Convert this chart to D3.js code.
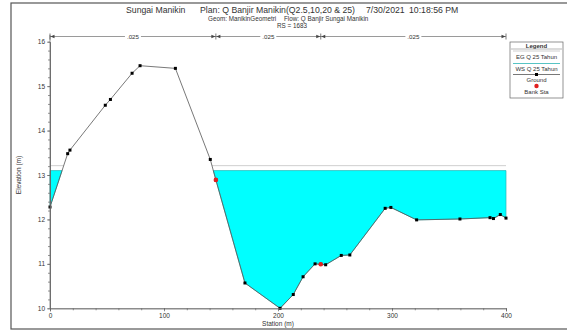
<!DOCTYPE html>
<html>
<head>
<meta charset="utf-8">
<script src="https://cdn.jsdelivr.net/npm/d3@7"></script>
<style>
  body { margin: 0; background: #fff; }
  text { font-family: "Liberation Sans", Arial, sans-serif; fill: #333; }
</style>
</head>
<body>
<div id="chart-container"></div>
<script>
// ground profile (station m, elevation m)
var station   = [0, 15.5, 17.5, 48.5, 53, 72, 79, 110, 140.6, 145.5, 171, 201.8, 213.4, 222, 232.5, 237.5, 241.8, 255.5, 263, 294, 299, 321.6, 359.6, 386, 389, 395, 400];
var elevation = [12.28, 13.48, 13.56, 14.57, 14.70, 15.29, 15.46, 15.40, 13.35, 12.89, 10.57, 10.0, 10.31, 10.71, 11.00, 10.99, 10.98, 11.19, 11.20, 12.25, 12.27, 11.99, 12.01, 12.04, 12.02, 12.11, 12.03];
var bankStations = [145.5, 237.5];
var bankElev = [12.89, 10.99];
var wsElev = 13.10;   // WS Q 25 Tahun
var egElev = 13.21;   // EG Q 25 Tahun
var nBreaks = [0, 145.5, 237.5, 400];
var nValues = [".025", ".025", ".025"];
var xTicks = [0, 100, 200, 300, 400];
var yTicks = [10, 11, 12, 13, 14, 15, 16];

var width = 567, height = 331;

var x = d3.scaleLinear().domain([0, 400]).range([50, 506]);
var y = d3.scaleLinear().domain([10, 16]).range([308.3, 41.7]);

var svg = d3.select("#chart-container")
    .append("svg")
    .attr("width", width)
    .attr("height", height);

// outer frame
svg.append("rect")
    .attr("x", 11).attr("y", 3)
    .attr("width", 570).attr("height", 326)
    .attr("fill", "none")
    .attr("stroke", "#555")
    .attr("stroke-width", 1.2);

// titles
var t = svg.append("text").attr("y", 12.5).attr("font-size", 8.7);
t.append("tspan").attr("x", 126).text("Sungai Manikin");
t.append("tspan").attr("x", 200).text("Plan: Q Banjir Manikin(Q2.5,10,20 & 25)");
t.append("tspan").attr("x", 366).text("7/30/2021");
t.append("tspan").attr("x", 409).text("10:18:56 PM");

var st = svg.append("text").attr("y", 21).attr("font-size", 6.3);
st.append("tspan").attr("x", 208).text("Geom: ManikinGeometri");
st.append("tspan").attr("x", 284).text("Flow: Q Banjir Sungai Manikin");
svg.append("text").attr("x", 277).attr("y", 28).attr("font-size", 6.3)
    .text("RS = 1683");

// wet pockets below a given level
function pockets(level) {
  var out = [], cur = null;
  for (var i = 0; i < station.length; i++) {
    var s = station[i], e = elevation[i];
    if (i > 0) {
      var s0 = station[i - 1], e0 = elevation[i - 1];
      if ((e0 < level) !== (e < level)) {
        var sx = s0 + (level - e0) / (e - e0) * (s - s0);
        if (cur) { cur.push([sx, level]); out.push(cur); cur = null; }
        else cur = [[sx, level]];
      }
    }
    if (e < level) {
      if (!cur) cur = [[s, level]];
      cur.push([s, e]);
    }
  }
  if (cur) { cur.push([station[station.length - 1], level]); out.push(cur); }
  return out;
}

var lineGen = d3.line().x(function(d) { return x(d[0]); }).y(function(d) { return y(d[1]); });

// EG line
pockets(egElev).forEach(function(p) {
  svg.append("line")
      .attr("x1", x(p[0][0])).attr("x2", x(p[p.length - 1][0]))
      .attr("y1", y(egElev)).attr("y2", y(egElev))
      .attr("stroke", "#cfcfcf").attr("stroke-width", 1);
});

// water
svg.selectAll("path.water")
    .data(pockets(wsElev))
    .enter().append("path")
    .attr("class", "water")
    .attr("d", function(d) { return lineGen(d) + "Z"; })
    .attr("fill", "#00ffff")
    .attr("stroke", "#2bb5b5")
    .attr("stroke-width", 0.7);

// ground
var ground = station.map(function(s, i) { return [s, elevation[i]]; });
svg.append("path")
    .attr("d", lineGen(ground))
    .attr("fill", "none")
    .attr("stroke", "#555")
    .attr("stroke-width", 0.8);

svg.selectAll("rect.pt")
    .data(ground)
    .enter().append("rect")
    .attr("class", "pt")
    .attr("x", function(d) { return x(d[0]) - 1.5; })
    .attr("y", function(d) { return y(d[1]) - 1.5; })
    .attr("width", 3).attr("height", 3)
    .attr("fill", "#000");

svg.selectAll("circle.bank")
    .data(bankStations)
    .enter().append("circle")
    .attr("class", "bank")
    .attr("cx", function(d) { return x(d); })
    .attr("cy", function(d, i) { return y(bankElev[i]); })
    .attr("r", 2.3)
    .attr("fill", "#e02020");

// axes
function styleAxis(g) {
  g.selectAll("path.domain, line").attr("stroke", "#666").attr("stroke-width", 0.7);
  g.selectAll("text").attr("font-size", 6.5).attr("fill", "#444");
}

svg.append("g")
    .attr("transform", "translate(0,308.3)")
    .call(d3.axisBottom(x).tickValues(d3.range(0, 401, 20)).tickSize(2).tickFormat(""))
    .call(styleAxis);
svg.append("g")
    .attr("transform", "translate(0,308.3)")
    .call(d3.axisBottom(x).tickValues(xTicks).tickSize(3).tickPadding(2).tickFormat(d3.format("d")))
    .call(styleAxis);

var yTop = y(16.15);
svg.append("g")
    .attr("transform", "translate(50,0)")
    .call(d3.axisLeft(y).tickValues(d3.range(10, 16.01, 0.2)).tickSize(2).tickFormat("").tickSizeOuter(0))
    .call(styleAxis);
svg.append("g")
    .attr("transform", "translate(50,0)")
    .call(d3.axisLeft(y).tickValues(yTicks).tickSize(3).tickPadding(2).tickFormat(d3.format("d")).tickSizeOuter(0))
    .call(styleAxis);
svg.append("line")
    .attr("x1", 50).attr("x2", 50)
    .attr("y1", yTop).attr("y2", y(10))
    .attr("stroke", "#666").attr("stroke-width", 0.7);

svg.append("text")
    .attr("transform", "translate(21," + y(13) + ") rotate(-90)")
    .attr("text-anchor", "middle")
    .attr("font-size", 6.5)
    .text("Elevation (m)");
svg.append("text")
    .attr("x", x(200)).attr("y", 326)
    .attr("text-anchor", "middle")
    .attr("font-size", 6.5)
    .text("Station (m)");

// Manning's n line
var nY = 36.5;
svg.append("line")
    .attr("x1", x(0)).attr("x2", x(400))
    .attr("y1", nY).attr("y2", nY)
    .attr("stroke", "#555").attr("stroke-width", 0.6);
nBreaks.forEach(function(b, i) {
  svg.append("line")
      .attr("x1", x(b)).attr("x2", x(b))
      .attr("y1", nY - 3).attr("y2", nY + 3)
      .attr("stroke", "#444").attr("stroke-width", 0.7);
  if (i < nBreaks.length - 1) {
    svg.append("path")
        .attr("d", "M" + (x(b) + 0.5) + "," + nY + "l4,-1.8v3.6z")
        .attr("fill", "#444");
  }
  if (i > 0) {
    svg.append("path")
        .attr("d", "M" + (x(b) - 0.5) + "," + nY + "l-4,-1.8v3.6z")
        .attr("fill", "#444");
  }
});
nValues.forEach(function(v, i) {
  var cx = (x(nBreaks[i]) + x(nBreaks[i + 1])) / 2;
  svg.append("rect")
      .attr("x", cx - 8).attr("y", nY - 4)
      .attr("width", 16).attr("height", 8)
      .attr("fill", "#fff");
  svg.append("text")
      .attr("x", cx).attr("y", nY + 2.2)
      .attr("text-anchor", "middle")
      .attr("font-size", 6.2)
      .text(v);
});

// legend
var lg = svg.append("g").attr("transform", "translate(510,42)");
lg.append("rect")
    .attr("width", 53).attr("height", 56)
    .attr("fill", "#fff").attr("stroke", "#666").attr("stroke-width", 0.7);
lg.append("text").attr("x", 26.5).attr("y", 5.5).attr("text-anchor", "middle")
    .attr("font-size", 6).attr("font-weight", "bold").text("Legend");
lg.append("line").attr("x1", 1).attr("x2", 52).attr("y1", 7).attr("y2", 7)
    .attr("stroke", "#888").attr("stroke-width", 0.6);
lg.append("line").attr("x1", 3).attr("x2", 50).attr("y1", 9).attr("y2", 9)
    .attr("stroke", "#cfcfcf").attr("stroke-width", 1);
lg.append("text").attr("x", 26.5).attr("y", 17).attr("text-anchor", "middle")
    .attr("font-size", 6).text("EG Q 25 Tahun");
lg.append("line").attr("x1", 3).attr("x2", 50).attr("y1", 21.5).attr("y2", 21.5)
    .attr("stroke", "#2bb5b5").attr("stroke-width", 0.8);
lg.append("text").attr("x", 26.5).attr("y", 29).attr("text-anchor", "middle")
    .attr("font-size", 6).text("WS Q 25 Tahun");
lg.append("line").attr("x1", 3).attr("x2", 50).attr("y1", 32.5).attr("y2", 32.5)
    .attr("stroke", "#555").attr("stroke-width", 0.8);
lg.append("rect").attr("x", 25).attr("y", 31).attr("width", 3).attr("height", 3).attr("fill", "#000");
lg.append("text").attr("x", 26.5).attr("y", 40).attr("text-anchor", "middle")
    .attr("font-size", 6).text("Ground");
lg.append("circle").attr("cx", 26.5).attr("cy", 44).attr("r", 2.2).attr("fill", "#e02020");
lg.append("text").attr("x", 26.5).attr("y", 51.5).attr("text-anchor", "middle")
    .attr("font-size", 6).text("Bank Sta");
</script>
</body>
</html>
